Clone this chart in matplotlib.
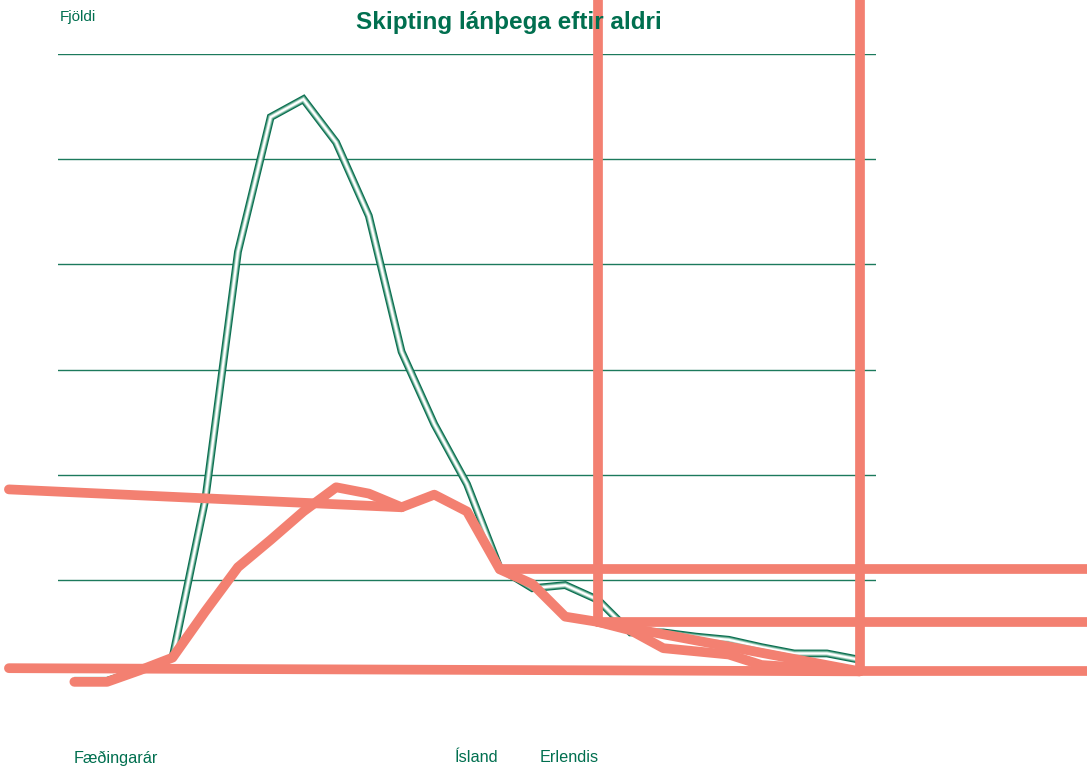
import matplotlib
matplotlib.use("Agg")
import matplotlib.pyplot as plt
from matplotlib import font_manager as fm

# ---- data ----
x_idx = list(range(25))
green_vals = [4, 4, 14, 26, 176, 412, 540, 557, 516, 446, 317, 248, 191, 111,
              92, 95, 81, 50, 50, 46, 43, 36, 30, 30, 24]
salmon_vals = [3, 3, 14, 26, 70, 112, 138, 165, 188, 182, 169, 181, 165, 110,
               96, 65, 60, 52, 35, 32, 29, 19, 17, 15, 13]
grid_vals = [100, 200, 300, 400, 500, 600]
title = "Skipting lánþega eftir aldri"
ylabel = "Fjöldi"
bottom_labels = ["Fæðingarár", "Ísland", "Erlendis"]
# stray salmon segments: (x0, y0, x1, y1) in data units
stray_x0 = [-2.0, -2.0, 13, 16, 16, 24, 16, 24]
stray_y0 = [186, 16, 110, 60, 60, 13, 60, 13]
stray_x1 = [10, 24, 31, 31, 16, 24, 24, 31]
stray_y1 = [169, 13, 110, 60, 660, 660, 13, 13]

# ---- style ----
avail = {f.name for f in fm.fontManager.ttflist}
fam = "Liberation Sans Narrow" if "Liberation Sans Narrow" in avail else "Liberation Sans"
plt.rcParams["font.family"] = [fam, "DejaVu Sans"]
GREEN = "#006F4F"
SALMON = "#F38071"

fig = plt.figure(figsize=(10.87, 7.71), dpi=100)
W, H = 1087, 771
ax = fig.add_axes([58 / W, (H - 685) / H, (876 - 58) / W, (685 - 54) / H])
ax.set_xlim(-0.5, 24.5)
ax.set_ylim(0, 600)
for s in ax.spines.values():
    s.set_visible(False)
ax.set_xticks([])
ax.set_yticks([])

for g in grid_vals:
    ax.axhline(g, color="#1C7A5C", lw=1.0, zorder=1)

# green tube line (layered for a gradient look)
for lw, col, z in [(5.6, "#0A6E50", 3.0), (4.0, "#4E9C80", 3.1),
                   (2.8, "#A9D3C3", 3.2), (1.5, "white", 3.3)]:
    ax.plot(x_idx, green_vals, color=col, lw=lw, zorder=z,
            solid_joinstyle="miter", solid_capstyle="butt")

# salmon series
ax.plot(x_idx, salmon_vals, color=SALMON, lw=7, zorder=4,
        solid_capstyle="round", solid_joinstyle="round", clip_on=False)
for a, b, c, d in zip(stray_x0, stray_y0, stray_x1, stray_y1):
    ax.plot([a, c], [b, d], color=SALMON, lw=7, zorder=4,
            solid_capstyle="round", clip_on=False)

fig.text(509 / W, 1 - 22 / H, title, color=GREEN, fontsize=17.5, fontweight="bold",
         ha="center", va="center")
fig.text(60 / W, 1 - 17 / H, ylabel, color=GREEN, fontsize=11, ha="left", va="center")
for lab, px in zip(bottom_labels, [74, 455, 540]):
    fig.text(px / W, 1 - 758 / H, lab, color=GREEN, fontsize=11.7, ha="left", va="center")

fig.savefig("out.png", dpi=100)
